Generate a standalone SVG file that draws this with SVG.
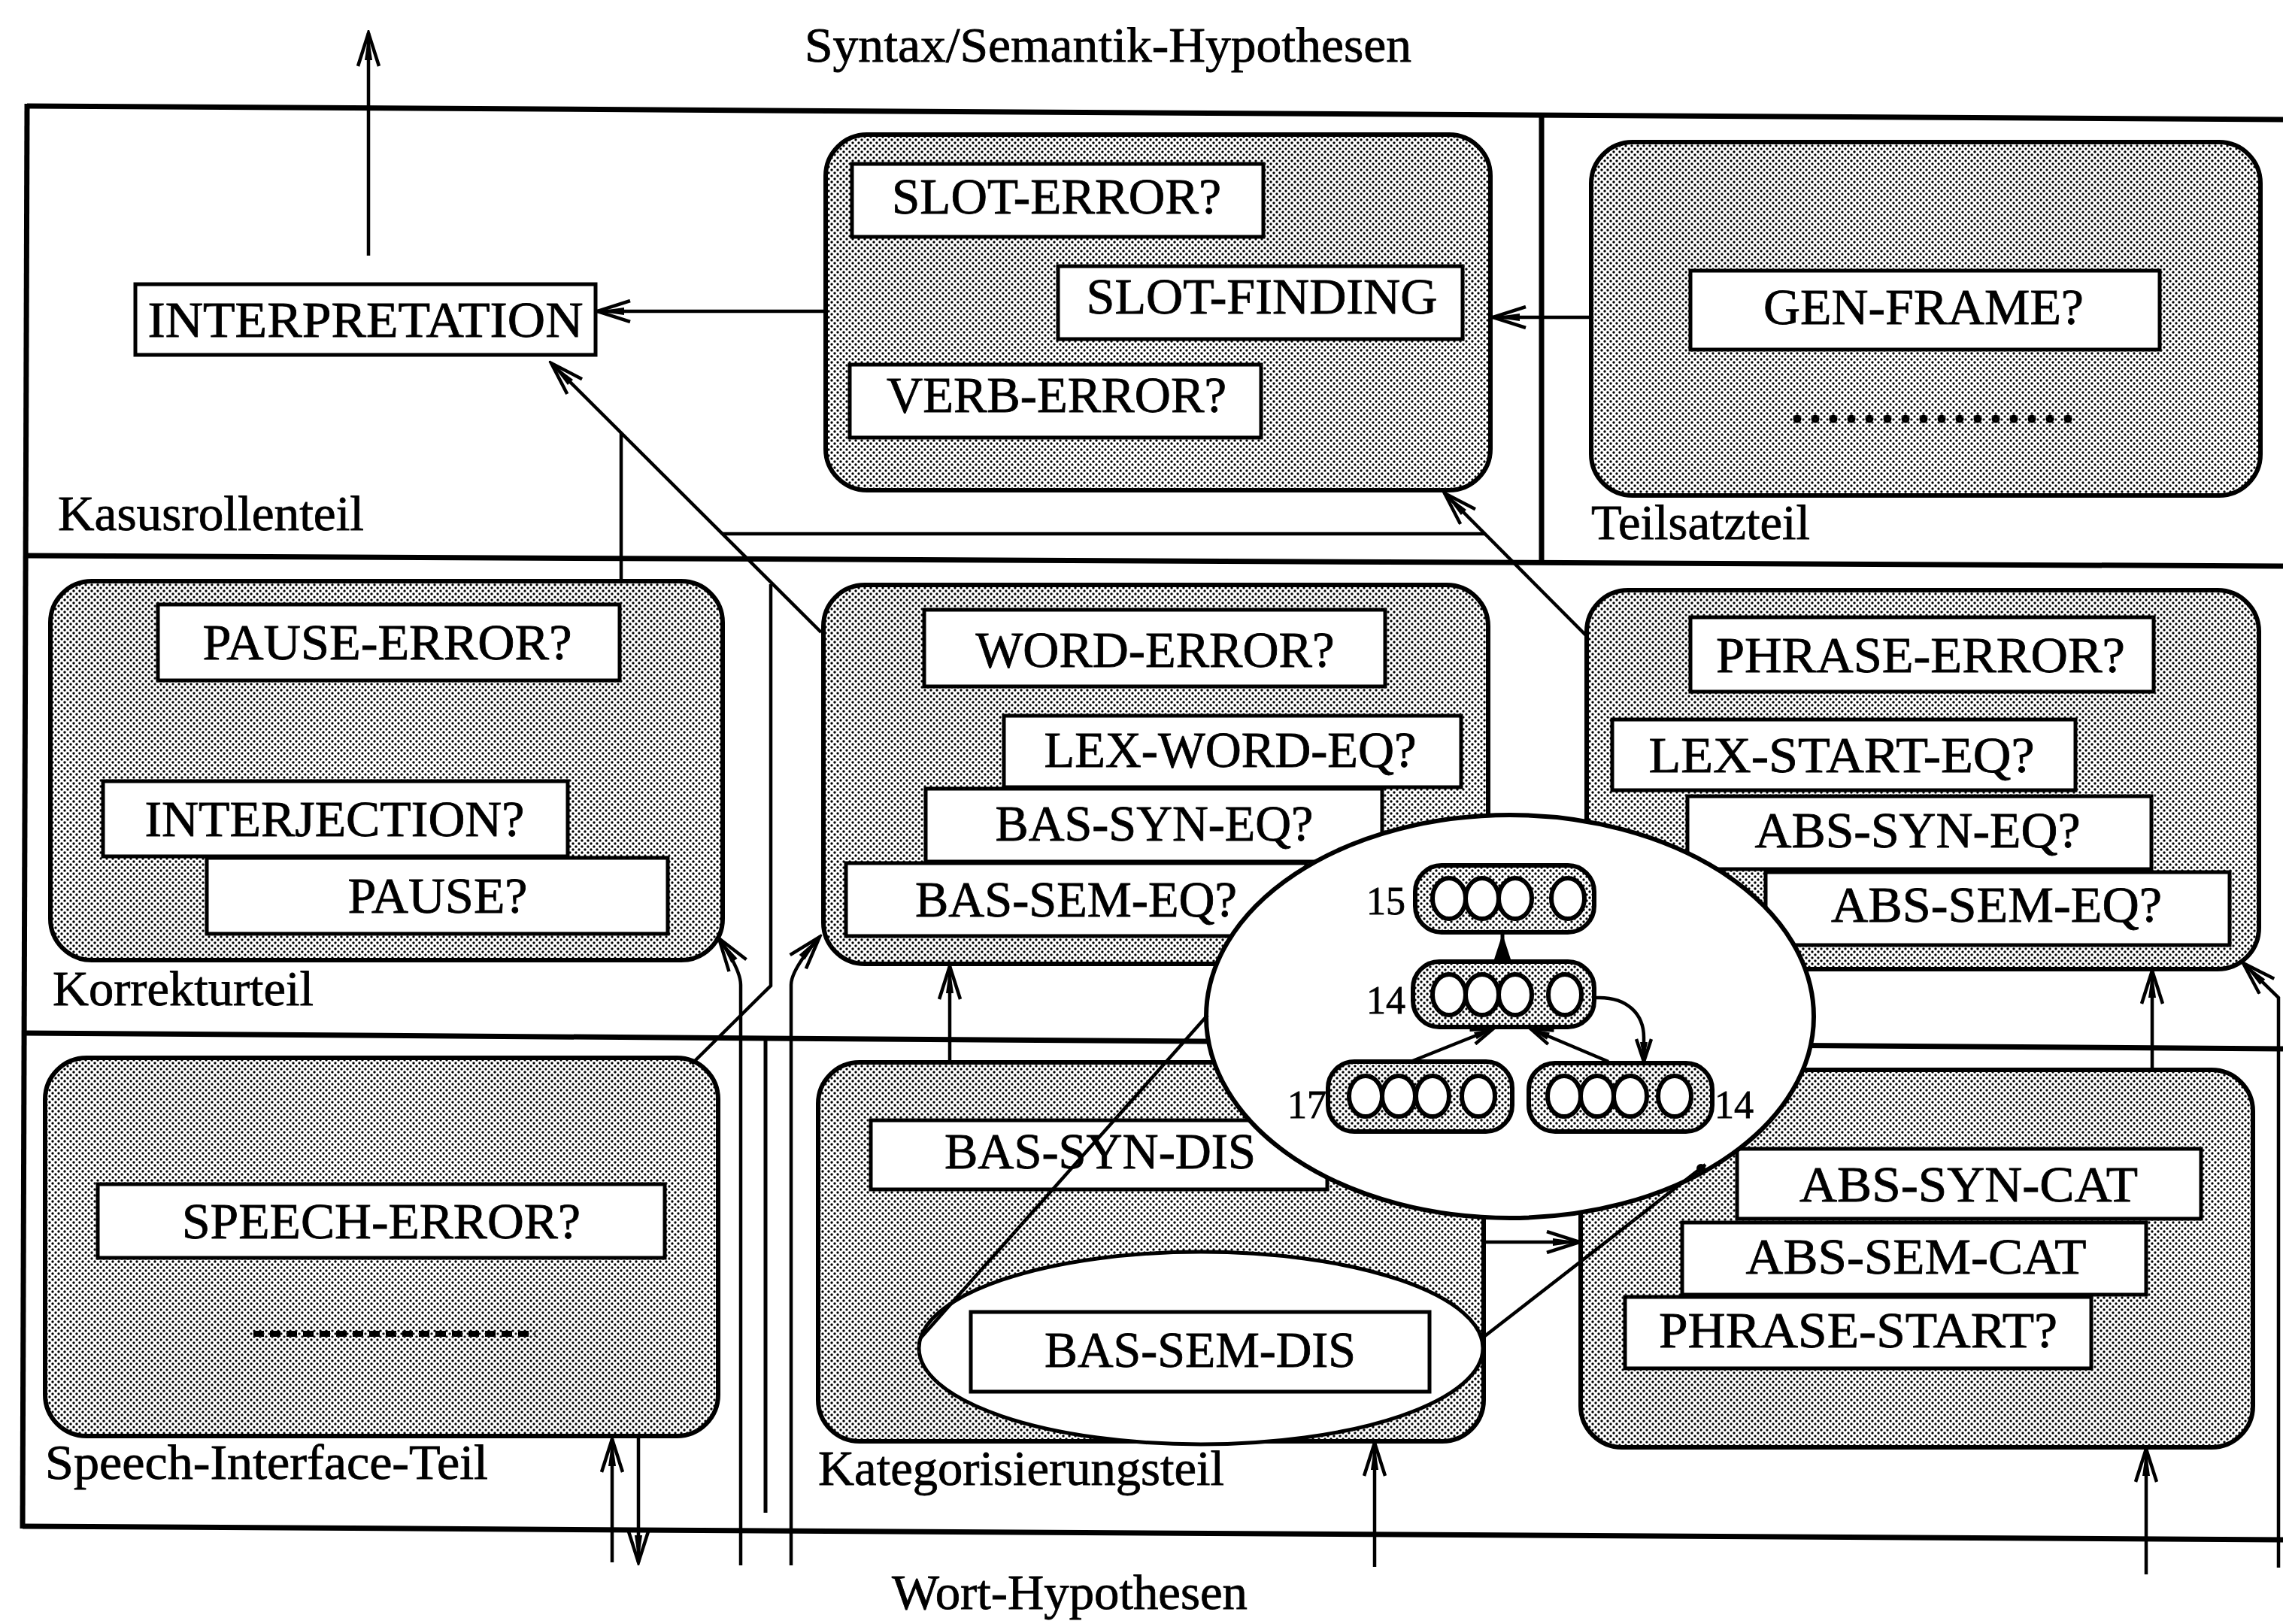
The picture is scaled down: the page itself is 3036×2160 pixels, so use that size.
<svg xmlns="http://www.w3.org/2000/svg" width="3036" height="2160" viewBox="0 0 3036 2160">
<defs>
<pattern id="halftone" width="8" height="8" patternUnits="userSpaceOnUse">
<rect width="8" height="8" fill="#fff"/>
<circle cx="2" cy="2" r="1.7" fill="#000"/>
<circle cx="6" cy="6" r="1.7" fill="#000"/>
</pattern>
<marker id="ah" viewBox="-50 -16 54 32" refX="0" refY="0" markerWidth="54" markerHeight="32" markerUnits="userSpaceOnUse" orient="auto">
<path d="M-44,-14 L0,0 L-44,14" fill="none" stroke="#000" stroke-width="4.5"/>
<path d="M-36,-5 L0,0 L-36,5 Z" fill="#000"/>
</marker>
<marker id="ahs" viewBox="-34 -12 38 24" refX="0" refY="0" markerWidth="38" markerHeight="24" markerUnits="userSpaceOnUse" orient="auto">
<path d="M-30,-10 L0,0 L-30,10" fill="none" stroke="#000" stroke-width="4.5"/>
<path d="M-26,-5 L0,0 L-26,5 Z" fill="#000"/>
</marker>
<style>
.frame{fill:none;stroke:#000;stroke-width:7}
.grp{fill:url(#halftone);stroke:#000;stroke-width:6}
.box{fill:#fff;stroke:#000;stroke-width:5}
.con{fill:none;stroke:#000;stroke-width:4.5}
.arr{marker-end:url(#ah)}
.arrs{marker-end:url(#ahs)}
text{font-family:"Liberation Serif","Times New Roman",serif;fill:#000;stroke:#000;stroke-width:0.8}
.t{font-size:67px;text-anchor:middle}
.r{font-size:66px}
.n{font-size:52px}
.node{fill:url(#halftone);stroke:#000;stroke-width:6}
.bead{fill:#fff;stroke:#000;stroke-width:6}
</style>
</defs>
<rect width="3036" height="2160" fill="#fff"/>

<g id="frame">
<line class="frame" x1="36" y1="141" x2="3036" y2="159"/>
<line class="frame" x1="36" y1="739" x2="3036" y2="753"/>
<line class="frame" x1="30" y1="1374" x2="3036" y2="1395"/>
<line class="frame" x1="30" y1="2030" x2="3036" y2="2048"/>
<line class="frame" x1="36" y1="138" x2="30" y2="2033"/>
<line class="frame" x1="2050" y1="150" x2="2050" y2="748"/>
<line class="frame" x1="1018" y1="1380" x2="1018" y2="2012" style="stroke-width:5"/>
</g>

<g id="region-labels">
<text class="r" x="1070" y="82" textLength="807" lengthAdjust="spacingAndGlyphs">Syntax/Semantik-Hypothesen</text>
<text class="r" x="77" y="705" textLength="407" lengthAdjust="spacingAndGlyphs">Kasusrollenteil</text>
<text class="r" x="2116" y="717" textLength="291" lengthAdjust="spacingAndGlyphs">Teilsatzteil</text>
<text class="r" x="70" y="1337" textLength="347" lengthAdjust="spacingAndGlyphs">Korrekturteil</text>
<text class="r" x="60" y="1967" textLength="589" lengthAdjust="spacingAndGlyphs">Speech-Interface-Teil</text>
<text class="r" x="1088" y="1975" textLength="540" lengthAdjust="spacingAndGlyphs">Kategorisierungsteil</text>
<text class="r" x="1186" y="2140" textLength="473" lengthAdjust="spacingAndGlyphs">Wort-Hypothesen</text>
</g>

<g id="interpretation">
<rect class="box" x="180" y="378" width="612" height="94"/>
<text class="t" x="486" y="448" textLength="579" lengthAdjust="spacingAndGlyphs">INTERPRETATION</text>
</g>

<g id="kasus-group">
<rect class="grp" x="1098" y="179" width="884" height="473" rx="55"/>
<rect class="box" x="1133" y="218" width="547" height="97"/>
<text class="t" x="1405" y="284" textLength="438" lengthAdjust="spacingAndGlyphs">SLOT-ERROR?</text>
<rect class="box" x="1407" y="354" width="538" height="97"/>
<text class="t" x="1678" y="417" textLength="467" lengthAdjust="spacingAndGlyphs">SLOT-FINDING</text>
<rect class="box" x="1130" y="485" width="547" height="97"/>
<text class="t" x="1405" y="548" textLength="452" lengthAdjust="spacingAndGlyphs">VERB-ERROR?</text>
</g>

<g id="teilsatz-group">
<rect class="grp" x="2116" y="189" width="890" height="470" rx="55"/>
<rect class="box" x="2248" y="360" width="624" height="105"/>
<text class="t" x="2558" y="431" textLength="426" lengthAdjust="spacingAndGlyphs">GEN-FRAME?</text>
<line x1="2390" y1="557" x2="2762" y2="557" stroke="#000" stroke-width="11" stroke-linecap="round" stroke-dasharray="0 24"/>
</g>

<g id="korrektur-group">
<rect class="grp" x="67" y="773" width="894" height="504" rx="55"/>
<rect class="box" x="210" y="804" width="614" height="101"/>
<text class="t" x="515" y="877" textLength="491" lengthAdjust="spacingAndGlyphs">PAUSE-ERROR?</text>
<rect class="box" x="137" y="1039" width="618" height="100"/>
<text class="t" x="445" y="1112" textLength="505" lengthAdjust="spacingAndGlyphs">INTERJECTION?</text>
<rect class="box" x="275" y="1141" width="613" height="101"/>
<text class="t" x="582" y="1214" textLength="239" lengthAdjust="spacingAndGlyphs">PAUSE?</text>
</g>

<g id="word-group">
<rect class="grp" x="1095" y="778" width="884" height="504" rx="55"/>
<rect class="box" x="1229" y="811" width="613" height="102"/>
<text class="t" x="1536" y="887" textLength="477" lengthAdjust="spacingAndGlyphs">WORD-ERROR?</text>
<rect class="box" x="1335" y="952" width="608" height="95"/>
<text class="t" x="1636" y="1020" textLength="495" lengthAdjust="spacingAndGlyphs">LEX-WORD-EQ?</text>
<rect class="box" x="1231" y="1049" width="607" height="97"/>
<text class="t" x="1535" y="1118" textLength="423" lengthAdjust="spacingAndGlyphs">BAS-SYN-EQ?</text>
<rect class="box" x="1125" y="1148" width="612" height="97"/>
<text class="t" x="1431" y="1219" textLength="428" lengthAdjust="spacingAndGlyphs">BAS-SEM-EQ?</text>
</g>

<g id="phrase-group">
<rect class="grp" x="2110" y="785" width="894" height="504" rx="55"/>
<rect class="box" x="2248" y="821" width="616" height="99"/>
<text class="t" x="2554" y="894" textLength="544" lengthAdjust="spacingAndGlyphs">PHRASE-ERROR?</text>
<rect class="box" x="2144" y="957" width="616" height="94"/>
<text class="t" x="2449" y="1027" textLength="513" lengthAdjust="spacingAndGlyphs">LEX-START-EQ?</text>
<rect class="box" x="2244" y="1059" width="617" height="97"/>
<text class="t" x="2550" y="1127" textLength="433" lengthAdjust="spacingAndGlyphs">ABS-SYN-EQ?</text>
<rect class="box" x="2348" y="1160" width="617" height="97"/>
<text class="t" x="2655" y="1226" textLength="440" lengthAdjust="spacingAndGlyphs">ABS-SEM-EQ?</text>
</g>

<g id="speech-group">
<rect class="grp" x="60" y="1407" width="895" height="503" rx="55"/>
<rect class="box" x="130" y="1575" width="754" height="98"/>
<text class="t" x="507" y="1647" textLength="530" lengthAdjust="spacingAndGlyphs">SPEECH-ERROR?</text>
<line x1="337" y1="1774" x2="712" y2="1774" stroke="#000" stroke-width="8" stroke-dasharray="14 8"/>
</g>

<g id="kategorisierung-group">
<rect class="grp" x="1088" y="1413" width="885" height="504" rx="55"/>
<rect class="box" x="1158" y="1490" width="607" height="92"/>
<text class="t" x="1463" y="1554" textLength="414" lengthAdjust="spacingAndGlyphs">BAS-SYN-DIS</text>
<ellipse class="box" cx="1597" cy="1793" rx="375" ry="128"/>
<rect class="box" x="1291" y="1745" width="610" height="106"/>
<text class="t" x="1596" y="1818" textLength="414" lengthAdjust="spacingAndGlyphs">BAS-SEM-DIS</text>
</g>

<g id="abs-group">
<rect class="grp" x="2102" y="1423" width="894" height="502" rx="55"/>
<rect class="box" x="2310" y="1528" width="617" height="93"/>
<text class="t" x="2618" y="1598" textLength="450" lengthAdjust="spacingAndGlyphs">ABS-SYN-CAT</text>
<rect class="box" x="2237" y="1626" width="617" height="96"/>
<text class="t" x="2548" y="1694" textLength="453" lengthAdjust="spacingAndGlyphs">ABS-SEM-CAT</text>
<rect class="box" x="2161" y="1725" width="620" height="95"/>
<text class="t" x="2471" y="1792" textLength="530" lengthAdjust="spacingAndGlyphs">PHRASE-START?</text>
</g>

<g id="connectors">
<path class="con arr" d="M490,340 L490,44"/>
<path class="con arr" d="M1098,414 L794,414"/>
<path class="con arr" d="M2116,422 L1985,422"/>
<path class="con arr" d="M1092,841 L733,483"/>
<path class="con" d="M826,775 L826,576"/>
<path class="con" d="M960,710 L1975,710"/>
<path class="con arr" d="M2109,845 L1921,656"/>
<path class="con" d="M920,1415 L1025,1311 L1025,777"/>
<path class="con arr" d="M985,2082 L985,1310 Q985,1290 956,1248"/>
<path class="con arr" d="M1052,2082 L1052,1310 Q1052,1290 1090,1246"/>
<path class="con arr" d="M814,2078 L814,1914"/>
<path class="con arr" d="M849,1911 L849,2078"/>
<path class="con arr" d="M1263,1412 L1263,1285"/>
<path class="con arr" d="M1973,1652 L2101,1652"/>
<path class="con arr" d="M1828,2084 L1828,1919"/>
<path class="con arr" d="M2854,2094 L2854,1927"/>
<path class="con arr" d="M2862,1422 L2862,1291"/>
<path class="con arr" d="M3030,2085 L3030,1327 L2983,1281"/>
</g>

<g id="magnifier">
<ellipse cx="2008" cy="1352" rx="404" ry="268" fill="#fff" stroke="#000" stroke-width="6"/>
<g id="node-15">
<rect class="node" x="1882" y="1151" width="238" height="89" rx="35"/>
<ellipse class="bead" cx="1927" cy="1195" rx="22" ry="27"/>
<ellipse class="bead" cx="1971" cy="1195" rx="22" ry="27"/>
<ellipse class="bead" cx="2015" cy="1195" rx="22" ry="27"/>
<ellipse class="bead" cx="2085" cy="1195" rx="22" ry="27"/>
<text class="n" x="1817" y="1216">15</text>
</g>
<g id="node-14a">
<rect class="node" x="1879" y="1279" width="241" height="87" rx="35"/>
<ellipse class="bead" cx="1927" cy="1323" rx="22" ry="27"/>
<ellipse class="bead" cx="1971" cy="1323" rx="22" ry="27"/>
<ellipse class="bead" cx="2015" cy="1323" rx="22" ry="27"/>
<ellipse class="bead" cx="2081" cy="1323" rx="22" ry="27"/>
<text class="n" x="1817" y="1348">14</text>
</g>
<g id="node-17">
<rect class="node" x="1766" y="1412" width="245" height="93" rx="35"/>
<ellipse class="bead" cx="1816" cy="1458" rx="22" ry="27"/>
<ellipse class="bead" cx="1860" cy="1458" rx="22" ry="27"/>
<ellipse class="bead" cx="1905" cy="1458" rx="22" ry="27"/>
<ellipse class="bead" cx="1966" cy="1458" rx="22" ry="27"/>
<text class="n" x="1712" y="1487">17</text>
</g>
<g id="node-14b">
<rect class="node" x="2033" y="1414" width="244" height="91" rx="35"/>
<ellipse class="bead" cx="2080" cy="1458" rx="22" ry="27"/>
<ellipse class="bead" cx="2124" cy="1458" rx="22" ry="27"/>
<ellipse class="bead" cx="2168" cy="1458" rx="22" ry="27"/>
<ellipse class="bead" cx="2227" cy="1458" rx="22" ry="27"/>
<text class="n" x="2280" y="1487">14</text>
</g>
<g id="tree-edges">
<line x1="1998" y1="1240" x2="1998" y2="1279" stroke="#000" stroke-width="5"/>
<polygon points="1986,1279 2010,1279 1998,1242" fill="#000"/>
<path class="con arrs" d="M1876,1412 L1986,1368"/>
<path class="con arrs" d="M2139,1412 L2035,1368"/>
<path class="con arrs" d="M2122,1327 C2165,1325 2186,1350 2186,1380 L2186,1412"/>
</g>
</g>

<g id="magnifier-lines">
<path class="con" d="M1224,1780 L1606,1350"/>
<path class="con" d="M1972,1779 L2268,1549"/>
<circle cx="2262" cy="1554" r="6" fill="#000"/>
</g>
</svg>
